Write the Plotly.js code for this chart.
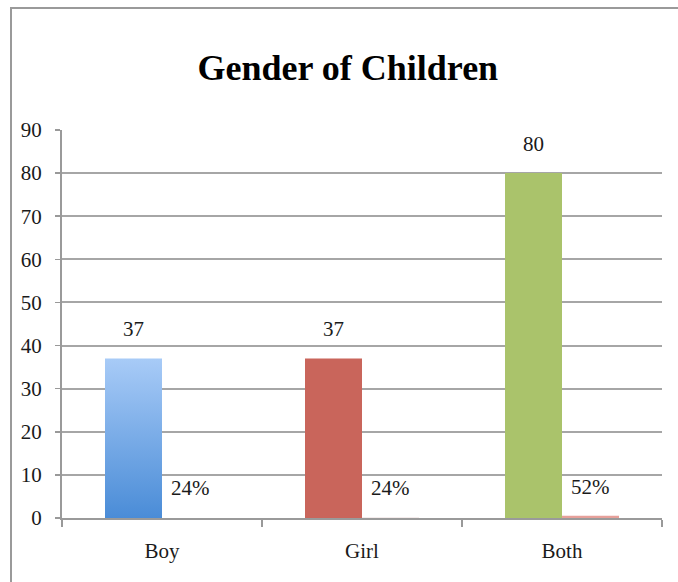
<!DOCTYPE html>
<html>
<head>
<meta charset="utf-8">
<script src="https://cdn.plot.ly/plotly-3.0.1.min.js"></script>
<style>
  html, body { margin: 0; padding: 0; background: #fff; overflow: hidden; }
  #wrap { position: relative; width: 678px; height: 582px; }
  #chart { width: 678px; height: 582px; }
  #frame { position: absolute; left: 10px; top: 7px; right: -5px; bottom: -5px;
           border-left: 2px solid #9a9a9a; border-top: 2px solid #9a9a9a; pointer-events: none; }
</style>
</head>
<body>
<div id="wrap">
  <div id="chart"></div>
  <div id="frame"></div>
</div>
<script>
// ---- data ----
const categories = ["Boy", "Girl", "Both"];
const counts = [37, 37, 80];
const shares = [0.24, 0.24, 0.52];
const shareLabels = ["24%", "24%", "52%"];
const yTicks = [0, 10, 20, 30, 40, 50, 60, 70, 80, 90];
const chartTitle = "Gender of Children";

// ---- styles ----
const countColors = ["#7aaae8", "#c9655b", "#aac36b"];
const shareColors = ["rgba(255,255,255,0)", "#f4ecec", "#e6a09a"];
const serif = "Liberation Serif";
const gridCol = "#a6a6a6";

const traces = [
  { type: "bar", x: categories, y: counts, marker: { color: countColors, line: { width: 0 } },
    hoverinfo: "skip", showlegend: false },
  { type: "bar", x: categories, y: shares, marker: { color: shareColors, line: { width: 0 } },
    hoverinfo: "skip", showlegend: false }
];

const annotations = [];
categories.forEach((c, i) => {
  annotations.push({ x: c, y: counts[i], xref: "x", yref: "y", text: String(counts[i]),
    showarrow: false, xshift: -28.5, yshift: 29, yanchor: "middle",
    font: { family: serif, size: 21, color: "#1a1a1a" } });
  annotations.push({ x: c, y: shares[i], xref: "x", yref: "y", text: shareLabels[i],
    showarrow: false, xshift: 28.5, yshift: 29, yanchor: "middle",
    font: { family: serif, size: 21, color: "#1a1a1a" } });
});

const layout = {
  width: 678, height: 582,
  font: { family: serif, color: "#1a1a1a" },
  margin: { l: 62, r: 16, t: 130, b: 64, pad: 0 },
  paper_bgcolor: "#ffffff", plot_bgcolor: "#ffffff",
  barmode: "group", bargap: 0.43, bargroupgap: 0,
  title: { text: "<b>" + chartTitle + "</b>", x: 0.513, xanchor: "center", xref: "container",
           y: 0.884, yanchor: "middle", yref: "container",
           font: { family: serif, size: 36, color: "#000" } },
  xaxis: { type: "category", tickson: "boundaries", ticks: "outside", ticklen: 7,
           tickwidth: 1.5, tickcolor: "#999", showline: true, linecolor: "#9a9a9a", linewidth: 2,
           showgrid: false, ticklabelstandoff: 13,
           tickfont: { family: serif, size: 21, color: "#1a1a1a" }, fixedrange: true },
  yaxis: { range: [0, 90], tickvals: yTicks, ticktext: yTicks.map(String), ticks: "outside",
           ticklen: 5, tickwidth: 1.5, tickcolor: "#999", showline: true, linecolor: "#9a9a9a",
           linewidth: 2, showgrid: true, gridcolor: gridCol, gridwidth: 2, zeroline: false,
           ticklabelstandoff: 9,
           tickfont: { family: serif, size: 21, color: "#1a1a1a" }, fixedrange: true },
  annotations: annotations
};

Plotly.newPlot("chart", traces, layout, { displayModeBar: false, staticPlot: true }).then(gd => {
  // vertical gradient fill for the first bar, as in the reference
  const svg = gd.querySelector("svg.main-svg");
  const ns = "http://www.w3.org/2000/svg";
  let defs = svg.querySelector("defs");
  if (!defs) { defs = document.createElementNS(ns, "defs"); svg.insertBefore(defs, svg.firstChild); }
  const grad = document.createElementNS(ns, "linearGradient");
  grad.setAttribute("id", "boyGrad");
  grad.setAttribute("x1", "0"); grad.setAttribute("y1", "0");
  grad.setAttribute("x2", "0"); grad.setAttribute("y2", "1");
  [["0%", "#a8cbf7"], ["100%", "#4a8cd7"]].forEach(([o, c]) => {
    const s = document.createElementNS(ns, "stop");
    s.setAttribute("offset", o); s.setAttribute("stop-color", c);
    grad.appendChild(s);
  });
  defs.appendChild(grad);
  const firstTrace = gd.querySelectorAll(".barlayer .trace")[0];
  if (firstTrace) {
    const p = firstTrace.querySelectorAll("path")[0];
    if (p) p.style.fill = "url(#boyGrad)";
  }
});
</script>
</body>
</html>
